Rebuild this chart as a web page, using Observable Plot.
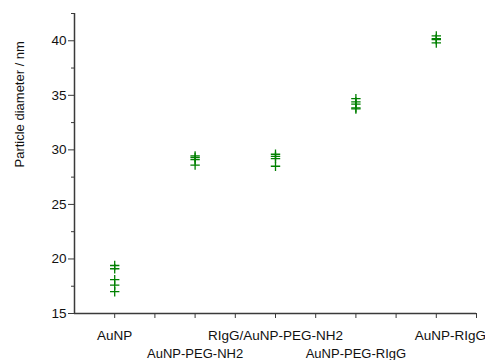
<!DOCTYPE html>
<html>
<head>
<meta charset="utf-8">
<script src="https://cdn.jsdelivr.net/npm/d3@7"></script>
<script src="https://cdn.jsdelivr.net/npm/@observablehq/plot@0.6"></script>
<style>
  html, body { margin: 0; padding: 0; background: #fff; }
  svg { display: block; }
</style>
</head>
<body>
<div id="chart"></div>
<script>
const categories = ["AuNP", "AuNP-PEG-NH2", "RIgG/AuNP-PEG-NH2", "AuNP-PEG-RIgG", "AuNP-RIgG"];
const aunp = [19.4, 19.1, 18.1, 17.6, 17.0];
const aunpPegNh2 = [29.45, 29.3, 29.1, 28.6];
const riggAunpPegNh2 = [29.6, 29.4, 29.2, 28.5];
const aunpPegRigg = [34.7, 34.4, 34.2, 33.85, 33.75];
const aunpRigg = [40.45, 40.2, 40.1, 39.8];
const yMajorTicks = [15, 20, 25, 30, 35, 40];
const yMinorTicks = [17.5, 22.5, 27.5, 32.5, 37.5, 42.5];
const xTicks = [1, 1.5, 2, 2.5, 3, 3.5, 4, 4.5, 5, 5.5];

const seriesList = [aunp, aunpPegNh2, riggAunpPegNh2, aunpPegRigg, aunpRigg];
const points = seriesList.flatMap((vals, i) => vals.map(v => ({x: i + 1, y: v})));
const labels = categories.map((c, i) => ({x: i + 1, label: c, row: i % 2}));

const plusSymbol = {
  draw(context, size) {
    const r = Math.sqrt(size / Math.PI);
    context.moveTo(-r, 0); context.lineTo(r, 0);
    context.moveTo(0, -r); context.lineTo(0, r);
  }
};

const axisColor = "#3a3a3a";
const font = "Liberation Sans, Arial, sans-serif";

const chart = Plot.plot({
  width: 485,
  height: 360,
  marginLeft: 74,
  marginRight: 9,
  marginTop: 13,
  marginBottom: 47,
  style: {fontFamily: font, color: "#111", background: "#fff"},
  x: {type: "linear", domain: [0.5, 5.5]},
  y: {domain: [15, 42.5]},
  marks: [
    Plot.axisY({ticks: yMajorTicks, tickSize: 6, tickPadding: 2, fontSize: 13.5, stroke: axisColor, label: null}),
    Plot.axisY({ticks: yMinorTicks, tickSize: 3, text: null, stroke: axisColor, label: null}),
    Plot.axisX({ticks: xTicks, tickSize: 5, text: null, stroke: axisColor, label: null}),
    Plot.ruleX([0.5], {stroke: axisColor, strokeWidth: 1.5}),
    Plot.ruleY([15], {stroke: axisColor, strokeWidth: 1.5}),
    Plot.text(labels.filter(d => d.row === 0 && d.x !== 5), {x: "x", y: () => 15, text: "label", dy: 22, lineAnchor: "middle", fontSize: 13.5, fill: "#111"}),
    Plot.text(labels.filter(d => d.x === 5), {x: "x", y: () => 15, text: "label", dy: 22, dx: 14, lineAnchor: "middle", fontSize: 13.5, fill: "#111"}),
    Plot.text(labels.filter(d => d.row === 1), {x: "x", y: () => 15, text: "label", dy: 40, lineAnchor: "middle", fontSize: 13, fill: "#111"}),
    Plot.text(["Particle diameter / nm"], {frameAnchor: "left", rotate: -90, dx: -55, dy: 4, fontSize: 13, fill: "#111"}),
    Plot.dot(points, {x: "x", y: "y", symbol: plusSymbol, r: 4.7, fill: "none", stroke: "#008000", strokeWidth: 1.3})
  ]
});
document.getElementById("chart").appendChild(chart);
</script>
</body>
</html>
